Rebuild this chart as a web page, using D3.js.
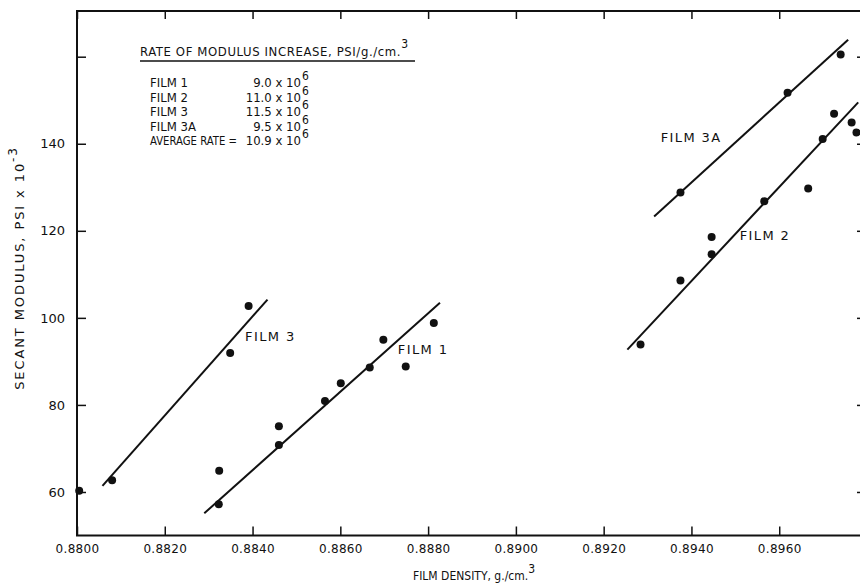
<!DOCTYPE html>
<html>
<head>
<meta charset="utf-8">
<script src="https://cdn.jsdelivr.net/npm/d3@7"></script>
<style>
  body { margin: 0; background: #fff; }
  text { font-family: "DejaVu Sans", sans-serif; fill: #111; }
  .cond { font-family: "DejaVu Sans Condensed", "Liberation Sans Narrow", "DejaVu Sans", sans-serif; font-stretch: condensed; }
</style>
</head>
<body>
<svg id="chart" width="860" height="587"></svg>
<script>
// Film density (g/cm3) and secant modulus (psi x 10^-3)
const film1Density = [0.88323, 0.88324, 0.88460, 0.88460, 0.88565, 0.88601, 0.88667, 0.88698, 0.88749, 0.88813];
const film1Modulus = [57.2, 64.9, 70.8, 75.1, 80.9, 85.0, 88.6, 95.0, 88.8, 98.8];

const film2Density = [0.89284, 0.89375, 0.89446, 0.89446, 0.89566, 0.89666, 0.89699, 0.89725, 0.89765, 0.89776];
const film2Modulus = [93.9, 108.6, 114.6, 118.6, 126.8, 129.7, 141.1, 146.9, 144.9, 142.6];

const film3Density = [0.88005, 0.88080, 0.88349, 0.88391];
const film3Modulus = [60.3, 62.7, 91.9, 102.7];

const film3ADensity = [0.89375, 0.89619, 0.89740];
const film3AModulus = [128.8, 151.7, 160.5];

// fitted lines, [density, modulus] end points
const film1Line = [[0.88290, 55.1], [0.88827, 103.5]];
const film2Line = [[0.89254, 92.7], [0.89780, 149.5]];
const film3Line = [[0.88058, 61.4], [0.88434, 104.2]];
const film3ALine = [[0.89315, 123.3], [0.89757, 163.9]];

// line labels: [text, density, modulus]
const lineLabels = [
  ["FILM 1", 0.88731, 92.9],
  ["FILM 2", 0.89510, 119.1],
  ["FILM 3", 0.88383, 95.9],
  ["FILM 3A", 0.89330, 141.6]
];

const xTicks = [0.8800, 0.8820, 0.8840, 0.8860, 0.8880, 0.8900, 0.8920, 0.8940, 0.8960, 0.8980];
const xLabelled = [0.8800, 0.8820, 0.8840, 0.8860, 0.8880, 0.8900, 0.8920, 0.8940, 0.8960];
const yTicks = [60, 80, 100, 120, 140, 160];
const yLabelled = [60, 80, 100, 120, 140];

const rateNames = ["FILM 1", "FILM 2", "FILM 3", "FILM 3A", "AVERAGE RATE ="];
const rateValues = ["9.0", "11.0", "11.5", "9.5", "10.9"];

const svg = d3.select("#chart");
const plot = { left: 77, right: 867, top: 11, bottom: 535.5 };

const x = d3.scaleLinear().domain([0.8800, 0.8980]).range([plot.left, plot.right]);
const y = d3.scaleLinear().domain([50, 170.5]).range([plot.bottom, plot.top]);

// frame
svg.append("rect")
  .attr("x", plot.left).attr("y", plot.top)
  .attr("width", plot.right - plot.left).attr("height", plot.bottom - plot.top)
  .attr("fill", "none").attr("stroke", "#111").attr("stroke-width", 2);

const styleAxis = g => {
  g.select(".domain").remove();
  g.selectAll(".tick line").attr("stroke", "#111").attr("stroke-width", 1.5);
  g.selectAll(".tick text").attr("fill", "#111").attr("font-size", "13px")
    .attr("font-family", '"DejaVu Sans", sans-serif');
};

const fmtX = d3.format(".4f");
svg.append("g")
  .attr("transform", `translate(0,${plot.bottom})`)
  .call(d3.axisBottom(x).tickValues(xTicks)
    .tickFormat(d => xLabelled.some(v => Math.abs(v - d) < 1e-9) ? fmtX(d) : "")
    .tickSize(-9).tickSizeOuter(0).tickPadding(9))
  .call(styleAxis)
  .call(g => g.selectAll(".tick text").attr("font-size", "12px").attr("letter-spacing", "0.3px"));

svg.append("g")
  .attr("transform", `translate(0,${plot.top})`)
  .call(d3.axisTop(x).tickValues(xTicks).tickFormat("").tickSize(-8).tickSizeOuter(0))
  .call(styleAxis);

svg.append("g")
  .attr("transform", `translate(${plot.left},0)`)
  .call(d3.axisLeft(y).tickValues(yTicks)
    .tickFormat(d => yLabelled.includes(d) ? d : "")
    .tickSize(-9).tickSizeOuter(0).tickPadding(12))
  .call(styleAxis);

svg.append("g")
  .attr("transform", `translate(${plot.right},0)`)
  .call(d3.axisRight(y).tickValues(yTicks).tickFormat("").tickSize(-10).tickSizeOuter(0))
  .call(styleAxis);

// axis titles
const xTitle = svg.append("text")
  .attr("class", "cond")
  .attr("x", 474).attr("y", 580)
  .attr("text-anchor", "middle").attr("font-size", "12px");
xTitle.append("tspan").text("FILM DENSITY, g./cm.");
xTitle.append("tspan").attr("dy", -7).attr("font-size", "12px").text("3");

const yTitle = svg.append("text")
  .attr("transform", "translate(24,268) rotate(-90)")
  .attr("text-anchor", "middle").attr("font-size", "13px")
  .attr("letter-spacing", "1.9px");
yTitle.append("tspan").text("SECANT MODULUS, PSI x 10");
yTitle.append("tspan").attr("dy", -7).attr("font-size", "12px").text("-3");

// fitted lines
const line = d3.line().x(d => x(d[0])).y(d => y(d[1]));
[film1Line, film2Line, film3Line, film3ALine].forEach(l => {
  svg.append("path").datum(l).attr("d", line)
    .attr("fill", "none").attr("stroke", "#111").attr("stroke-width", 2);
});

// points
const series = [
  [film1Density, film1Modulus],
  [film2Density, film2Modulus],
  [film3Density, film3Modulus],
  [film3ADensity, film3AModulus]
];
series.forEach(([xs, ys]) => {
  svg.append("g").selectAll("circle")
    .data(xs.map((d, i) => [d, ys[i]]))
    .enter()
    .append("circle")
    .attr("cx", d => x(d[0]))
    .attr("cy", d => y(d[1]))
    .attr("r", 4)
    .attr("fill", "#111");
});

svg.append("g").selectAll("text")
  .data(lineLabels)
  .enter()
  .append("text")
  .attr("x", d => x(d[1]))
  .attr("y", d => y(d[2]) + 5)
  .attr("font-size", "13px")
  .attr("letter-spacing", "1.4px")
  .text(d => d[0]);

// rate table
const title = svg.append("text")
  .attr("class", "cond")
  .attr("x", 140).attr("y", 56)
  .attr("font-size", "13px").attr("letter-spacing", "0.6px");
title.append("tspan").text("RATE OF MODULUS INCREASE, PSI/g./cm.");
title.append("tspan").attr("dy", -8).attr("font-size", "12px").text("3");

svg.append("line")
  .attr("x1", 140).attr("x2", 415).attr("y1", 61).attr("y2", 61)
  .attr("stroke", "#111").attr("stroke-width", 1.5);

const rowY = d3.scalePoint().domain(d3.range(rateNames.length)).range([87, 145]);

svg.append("g").selectAll("text")
  .data(rateNames)
  .enter()
  .append("text")
  .attr("class", "cond")
  .attr("x", 150)
  .attr("y", (d, i) => rowY(i))
  .attr("font-size", "13px")
  .attr("textLength", d => d.startsWith("AVERAGE") ? 87 : null)
  .attr("lengthAdjust", "spacingAndGlyphs")
  .text(d => d);

svg.append("g").selectAll("text")
  .data(rateValues)
  .enter()
  .append("text")
  .attr("class", "cond")
  .attr("x", 301)
  .attr("y", (d, i) => rowY(i))
  .attr("text-anchor", "end")
  .attr("font-size", "13px")
  .text(d => `${d} x 10`);

svg.append("g").selectAll("text")
  .data(rateValues)
  .enter()
  .append("text")
  .attr("class", "cond")
  .attr("x", 302)
  .attr("y", (d, i) => rowY(i) - 7)
  .attr("font-size", "12px")
  .text("6");
</script>
</body>
</html>
